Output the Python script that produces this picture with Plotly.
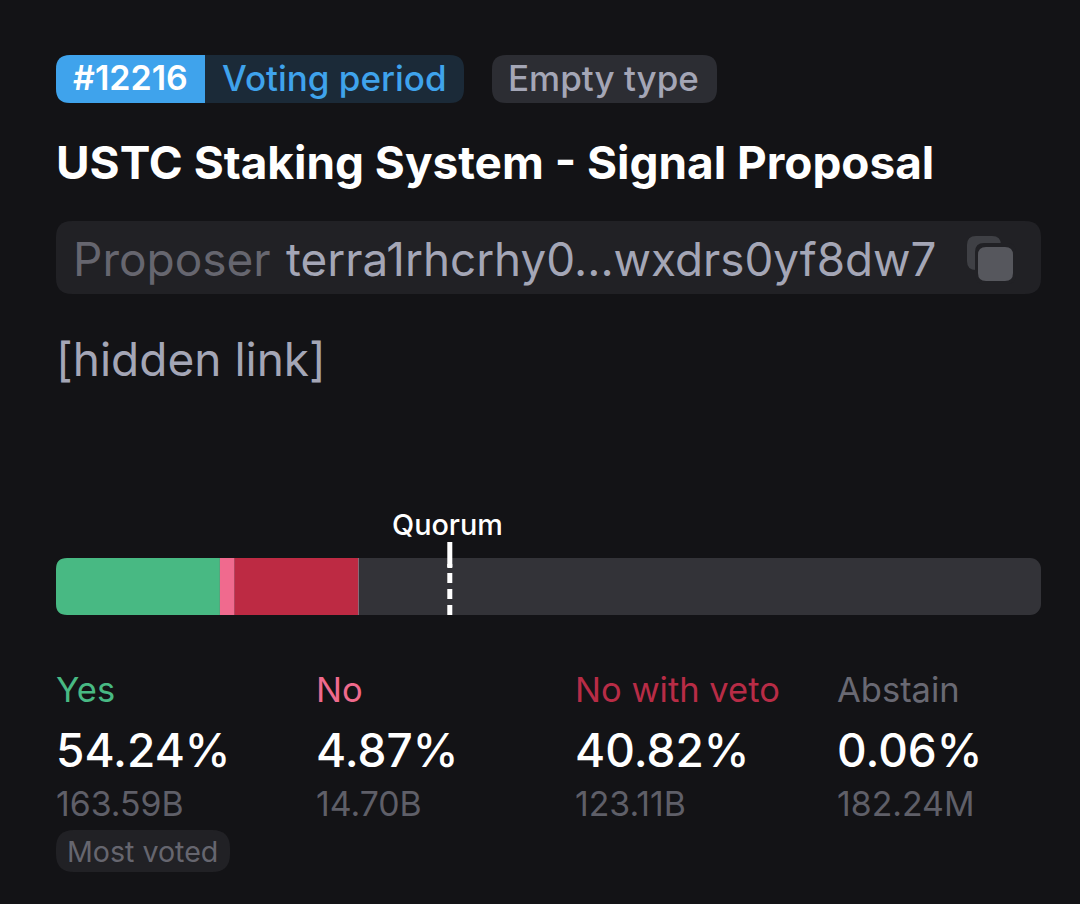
import plotly.graph_objects as go

W = 1080
H = 904
BG = "#131316"
FONT = "Inter"

# votes in billions
options = ["Yes", "No", "No with veto", "Abstain"]
votes = [163.59, 14.70, 123.11, 0.18224]
percents = ["54.24%", "4.87%", "40.82%", "0.06%"]
amounts = ["163.59B", "14.70B", "123.11B", "182.24M"]
option_colors = ["#48B983", "#F06A8E", "#BD2A43", "#8A6A78"]
label_colors = ["#48B983", "#EF6A8D", "#B82C46", "#696973"]
label_x = [55, 315, 574, 836]

total_staked = 983.0
quorum = 393.0


def px(x):
    return x / W


def py(y):
    return 1 - y / H


def rrect(x0, y0, x1, y1, r, color, corners="tl tr br bl"):
    # rounded rect in screen pixels
    tl = r if "tl" in corners else 0
    tr = r if "tr" in corners else 0
    br = r if "br" in corners else 0
    bl = r if "bl" in corners else 0
    path = f"M {px(x0 + tl)} {py(y0)} L {px(x1 - tr)} {py(y0)} "
    path += f"Q {px(x1)} {py(y0)} {px(x1)} {py(y0 + tr)} L {px(x1)} {py(y1 - br)} "
    path += f"Q {px(x1)} {py(y1)} {px(x1 - br)} {py(y1)} L {px(x0 + bl)} {py(y1)} "
    path += f"Q {px(x0)} {py(y1)} {px(x0)} {py(y1 - bl)} L {px(x0)} {py(y0 + tl)} "
    path += f"Q {px(x0)} {py(y0)} {px(x0 + tl)} {py(y0)} Z"
    return dict(type="path", path=path, xref="paper", yref="paper", fillcolor=color,
                line_width=0, layer="below")


def corner_mask(x, y, r, sx, sy):
    # background coloured notch, rounds off the square bar base
    path = f"M {px(x)} {py(y)} L {px(x + sx * r)} {py(y)} "
    path += f"Q {px(x)} {py(y)} {px(x)} {py(y + sy * r)} Z"
    return dict(type="path", path=path, xref="paper", yref="paper", fillcolor=BG,
                line_width=0, layer="above")


def text(x, y, s, size, color, weight=400):
    return dict(x=px(x), y=py(y), xref="paper", yref="paper", text=s, showarrow=False,
                xanchor="left", yanchor="middle", borderpad=0,
                font=dict(family=FONT, size=size, color=color, weight=weight))


shapes = [
    rrect(56, 55, 464, 103, 14, "#1B2A38"),
    rrect(56, 55, 205, 103, 14, "#3FA3EC", corners="tl bl"),
    rrect(492, 55, 717, 103, 14, "#2C2D33"),
    rrect(56, 221, 1041, 294, 16, "#212125"),
    rrect(967, 236, 1001, 270, 9, "#3F4045"),
    rrect(975, 243, 1016, 284, 9, "#212125"),
    rrect(978, 247, 1013, 281, 8, "#56575D"),
    rrect(56, 830, 230, 872, 18, "#212125"),
    corner_mask(56, 558, 11, 1, 1),
    corner_mask(56, 615, 11, 1, -1),
    # quorum tick
    dict(type="line", xref="x", yref="paper", x0=quorum, x1=quorum, y0=py(615), y1=py(564),
         line=dict(color="#FFFFFF", width=5, dash="10px,6px"), layer="above"),
    dict(type="line", xref="x", yref="paper", x0=quorum, x1=quorum, y0=py(568), y1=py(542),
         line=dict(color="#FFFFFF", width=5), layer="above"),
]

annotations = [
    text(72, 78, "#12216", 34, "#FFFFFF", 600),
    text(221, 78, "Voting period", 35, "#3FA3EC", 500),
    text(507, 78, "Empty type", 35, "#A4A6B6", 500),
    text(55, 162, "USTC Staking System - Signal Proposal", 45.9, "#FFFFFF", 700),
    text(72, 259, "Proposer", 46, "#66666F"),
    text(285, 259, "terra1rhcrhy0...wxdrs0yf8dw7", 45.8, "#A4A6B6"),
    text(55, 359, "[hidden link]", 46, "#A4A6B6"),
    text(391, 524, "Quorum", 28.8, "#FFFFFF", 500),
    text(66, 851, "Most voted", 28.6, "#66666F"),
]
for name, pct, amt, color, x in zip(options, percents, amounts, label_colors, label_x):
    annotations.append(text(x, 689, name, 34.5, color))
    annotations.append(text(x, 750, pct, 46, "#FFFFFF", 500))
    annotations.append(text(x, 803, amt, 33.8, "#5F5F68"))

fig = go.Figure()
# track behind the votes, far end rounded by the cornerradius
fig.add_trace(go.Bar(x=[total_staked], y=[0], orientation="h", width=1, base=0,
                     marker=dict(color="#333338", line_width=0, cornerradius=11)))
base = 0
for name, v, color in zip(options, votes, option_colors):
    fig.add_trace(go.Bar(x=[v], y=[0], base=base, orientation="h", width=1, name=name,
                         marker=dict(color=color, line_width=0)))
    base += v

fig.update_layout(
    width=W, height=H, margin=dict(l=0, r=0, t=0, b=0), barmode="overlay",
    paper_bgcolor=BG, plot_bgcolor=BG, showlegend=False,
    shapes=shapes, annotations=annotations,
    xaxis=dict(domain=[px(56), px(1041)], range=[0, total_staked], visible=False),
    yaxis=dict(domain=[py(615), py(558)], range=[-0.5, 0.5], visible=False),
)

fig.write_html("out.html", config={"displayModeBar": False},
               post_script="document.body.style.margin='0';document.body.style.background='" + BG + "';")
